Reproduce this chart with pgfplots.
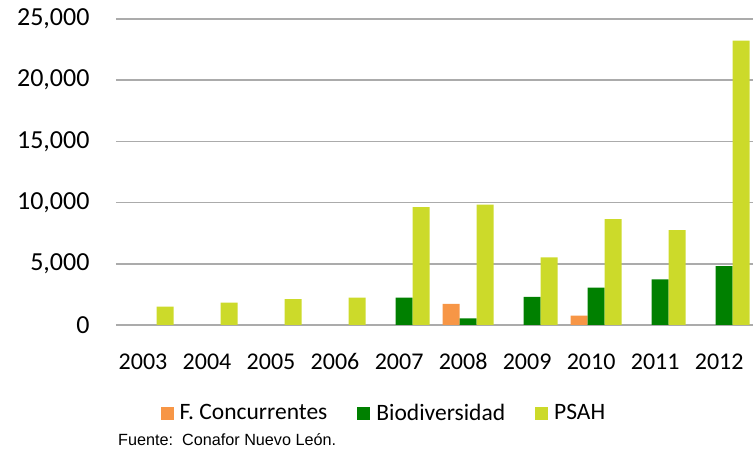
\documentclass[border=0pt]{standalone}
\usepackage{pgfplots}
\pgfplotsset{compat=1.18}
\usepackage{fontspec}
\setmainfont{Carlito}
\newfontfamily\arialf{Liberation Sans}
\definecolor{cFC}{HTML}{F79646}
\definecolor{cBio}{HTML}{008000}
\definecolor{cPSAH}{HTML}{CCDA2A}
\definecolor{cGrid}{HTML}{ABABAB}
\begin{document}
\begin{tikzpicture}
\useasboundingbox (0pt,0pt) rectangle (753pt,450pt);
\begin{axis}[
  at={(116pt,125pt)}, anchor=south west,
  scale only axis, width=637pt, height=306pt,
  xmin=-0.5, xmax=9.45, ymin=0, ymax=25000,
  ybar=0pt, bar width=17pt,
  axis line style={draw=none}, tick style={draw=none},
  ymajorgrids, grid style={cGrid, line width=1.6pt},
  ytick={0,5000,10000,15000,20000,25000},
  scaled y ticks=false,
  yticklabel={\pgfmathprintnumber[assume math mode=true,1000 sep={,}]{\tick}},
  xtick={0,1,2,3,4,5,6,7,8,9},
  xticklabels={2003,2004,2005,2006,2007,2008,2009,2010,2011,2012},
  yticklabel style={font=\fontsize{26}{30}\selectfont, xshift=-23pt},
  xticklabel style={font=\fontsize{24}{28}\selectfont, xshift=-5pt, yshift=-20pt, text height=17pt, text depth=5pt},
  legend columns=3,
  legend style={draw=none, fill=none, at={(0.419,-0.2876)}, anchor=center,
    font=\fontsize{23.5}{28}\selectfont,
    /tikz/every even column/.append style={column sep=30pt},
    nodes={inner sep=0pt}},
  legend image code/.code={\fill[#1] (0pt,-6.5pt) rectangle (13pt,6.5pt); \path (19pt,0pt);},
]
\addplot[fill=cFC, draw=none] coordinates {(5,1720) (7,760)};
\addplot[fill=cBio, draw=none] coordinates {(4,2230) (5,550) (6,2290) (7,3050) (8,3730) (9,4820)};
\addplot[fill=cPSAH, draw=none] coordinates {(0,1500) (1,1820) (2,2120) (3,2230) (4,9620) (5,9830) (6,5530) (7,8640) (8,7760) (9,23230)};
\legend{F. Concurrentes, Biodiversidad, PSAH}
\end{axis}
\node[anchor=west, inner sep=0pt, font=\arialf\fontsize{16.2}{19}\selectfont] at (118pt,10pt) {Fuente:\ \ Conafor Nuevo León.};
\end{tikzpicture}
\end{document}
